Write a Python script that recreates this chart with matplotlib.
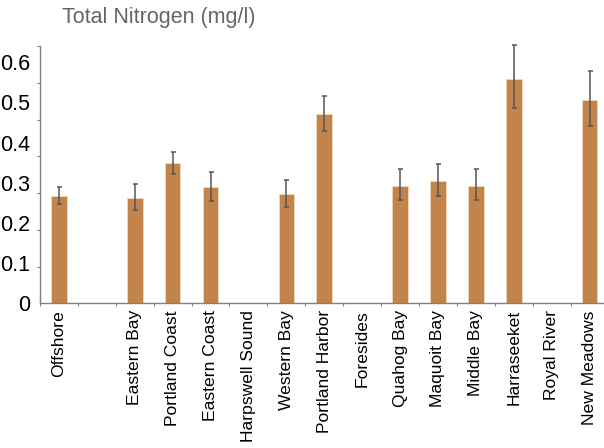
import numpy as np
from matplotlib import pyplot as plt

plt.rcParams['font.family'] = ['Liberation Sans', 'DejaVu Sans']

# stations (index 1 is an empty slot in the original chart)
sites = ['Offshore', '', 'Eastern Bay', 'Portland Coast', 'Eastern Coast',
         'Harpswell Sound', 'Western Bay', 'Portland Harbor', 'Foresides',
         'Quahog Bay', 'Maquoit Bay', 'Middle Bay', 'Harraseeket',
         'Royal River', 'New Meadows']
tn_mean = [0.268, np.nan, 0.263, 0.349, 0.289, np.nan, 0.272, 0.472, np.nan,
           0.293, 0.304, 0.293, 0.557, np.nan, 0.506]
tn_low = [0.246, np.nan, 0.231, 0.323, 0.254, np.nan, 0.240, 0.430, np.nan,
          0.258, 0.268, 0.258, 0.485, np.nan, 0.442]
tn_high = [0.290, np.nan, 0.298, 0.376, 0.327, np.nan, 0.307, 0.517, np.nan,
           0.333, 0.346, 0.333, 0.644, np.nan, 0.579]
y_labels = ['0', '0.1', '0.2', '0.3', '0.4', '0.5', '0.6']

mean = np.array(tn_mean)
err = np.vstack([mean - np.array(tn_low), np.array(tn_high) - mean])
x = np.arange(len(sites))

fig = plt.figure(figsize=(6.04, 4.48), dpi=100)
ax = fig.add_axes([0.0662, 0.323, 0.9413, 0.574])

ax.bar(x, mean, width=0.41, color='#C2844A', edgecolor='#F3DCC4', linewidth=0.5)
eb = ax.errorbar(x, mean, yerr=err, fmt='none', ecolor='#555555',
                 elinewidth=1.1, capsize=1.8, capthick=1.1)
for artist in eb.lines[1] + eb.lines[2]:
    artist.set_clip_on(False)

ax.set_xlim(-0.5, len(sites) - 0.5)
ax.set_ylim(0, 0.64)

for s in ['top', 'right']:
    ax.spines[s].set_visible(False)
for s in ['left', 'bottom']:
    ax.spines[s].set_color('#808080')
    ax.spines[s].set_linewidth(1.0)

# labelled values with no marks, marks split the axis in seven
ax.set_yticks(np.arange(len(y_labels)) * 0.1)
ax.set_yticklabels(y_labels, fontsize=15.5)
ax.tick_params(axis='y', which='major', length=0, pad=7)
ax.set_yticks(np.linspace(0, 0.64, 8), minor=True)
ax.tick_params(axis='y', which='minor', length=2.5, color='#808080', width=0.8)

ax.set_xticks(x)
ax.set_xticklabels(sites, rotation=90, fontsize=12.6, va='top', ha='center')
ax.tick_params(axis='x', which='major', length=0, pad=5)
ax.set_xticks(np.arange(len(sites) + 1) - 0.5, minor=True)
ax.tick_params(axis='x', which='minor', length=2.5, color='#808080', width=0.8)

fig.text(0.103, 0.962, 'Total Nitrogen (mg/l)', fontsize=15.5, color='#666666',
         ha='left', va='center')

fig.savefig('out.png', dpi=100)
